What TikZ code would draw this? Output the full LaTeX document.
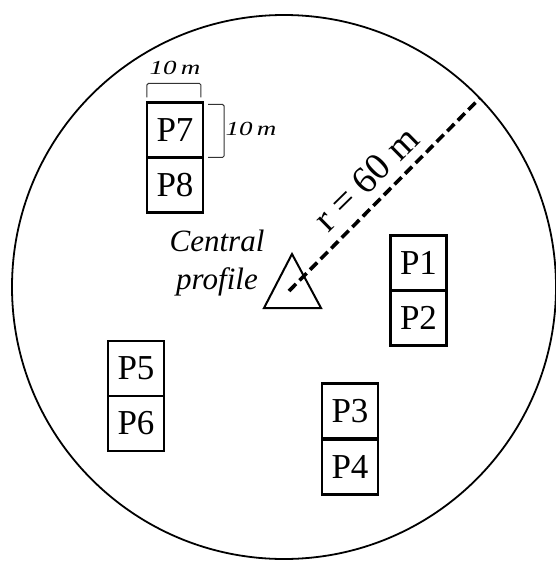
\documentclass[tikz,border=0pt]{standalone}
\usepackage{fontspec}
\setmainfont{Liberation Serif}
\begin{document}
\begin{tikzpicture}[x=1pt,y=-1pt,
  plot/.style={draw,line width=2.2pt,minimum width=56pt,minimum height=55pt,inner sep=0pt,
    font=\fontsize{35}{35}\selectfont},
  brk/.style={draw=black!80,line width=1pt,rounded corners=1.5pt},
  dimlbl/.style={inner sep=0pt,font=\fontsize{20}{20}\selectfont\itshape},
  radius line/.style={line width=3.6pt,dash pattern=on 10pt off 5pt}]
\useasboundingbox (0,0) rectangle (555,562);
\fill[white] (0,0) rectangle (555,562);
% outer circle
\draw[line width=1.8pt] (284,287) circle[radius=272pt];
% plots
\node[plot] (p7) at (175,130) {P7};
\node[plot] (p8) at (175,185) {P8};
\node[plot] (p1) at (418.5,263) {P1};
\node[plot] (p2) at (418.5,318) {P2};
\node[plot] (p3) at (350,411) {P3};
\node[plot] (p4) at (350,467) {P4};
\node[plot] (p5) at (136,368.5) {P5};
\node[plot] (p6) at (136,423.5) {P6};
% dimension brackets
\draw[brk] (p7.north west)++(1,-4) -- ++(0,-14) -- ++(54,0) -- ++(0,14);
\draw[brk] (p7.north east)++(4,3) -- ++(16,0) -- ++(0,53) -- ++(-16,0);
\node[dimlbl] (w10) at (175,68) {\scalebox{1.35}[1]{10\,m}};
\node[dimlbl] (h10) at (251,129) {\scalebox{1.35}[1]{10\,m}};
% central profile triangle
\coordinate (ta) at (292,254);
\coordinate (tb) at (264,308);
\coordinate (tc) at (321,308);
\draw[line width=2pt,line join=miter] (ta) -- (tb) -- (tc) -- cycle;
\node[font=\fontsize{31}{38}\selectfont\itshape,align=center,inner sep=0pt] (cp) at (217,263) {Central\\profile};
% radius
\coordinate (ctr) at (289,291);
\coordinate (edge) at (480,98);
\draw[radius line] (ctr) -- (edge);
\node[rotate=44.5,inner sep=0pt,font=\fontsize{38}{38}\selectfont] (rl) at (366,179) {r = 60 m};
\end{tikzpicture}
\end{document}
